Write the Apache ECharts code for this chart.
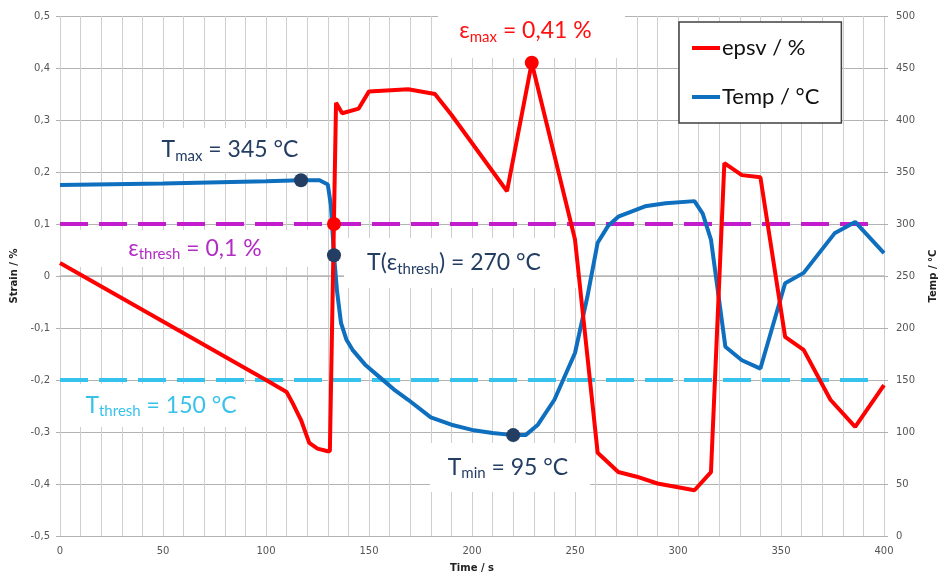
<!DOCTYPE html>
<html>
<head>
<meta charset="utf-8">
<script src="https://cdn.jsdelivr.net/npm/echarts@6/dist/echarts.min.js"></script>
<style>
  html, body { margin: 0; padding: 0; background: #fff; }
  #chart { width: 946px; height: 585px; }
</style>
</head>
<body>
<div id="chart"></div>
<script>
// strain (%) over time (s)
const strainData = [
  [0, 0.025], [100, -0.200], [110, -0.223], [113, -0.245], [117, -0.277],
  [121, -0.321], [125, -0.332], [130, -0.337], [131, -0.337], [134, 0.333],
  [137, 0.313], [145, 0.322], [150, 0.355], [169, 0.359], [182, 0.350],
  [190, 0.310], [217, 0.163], [229, 0.410], [250, 0.070], [261, -0.340],
  [271, -0.377], [280, -0.386], [290, -0.399], [308, -0.412], [316, -0.377],
  [322.5, 0.217], [331, 0.194], [340, 0.190], [352, -0.117], [361, -0.142],
  [374, -0.238], [386, -0.290], [400, -0.210]
];

// temperature (°C) over time (s)
const tempData = [
  [0, 337.5], [50, 339], [100, 341], [117, 342], [126, 342], [130, 338],
  [131.5, 318], [133, 270], [134.5, 235], [136.4, 205], [139, 189], [142, 179],
  [148, 165], [155, 153], [162, 141], [169, 131], [180, 114], [190, 107],
  [200, 102], [210, 99], [220, 97], [226, 97], [232, 107], [240, 131],
  [250, 176], [256, 230], [261, 282], [266, 298], [271, 307], [284, 317],
  [294, 320], [308, 322], [312, 310], [316, 285], [323, 182], [331, 169],
  [340, 161], [352, 243], [361, 253], [376, 291], [386, 302], [400, 272]
];

const strainThresh = [[0, 0.1], [394, 0.1]];
const tempThresh = [[0, 150], [394, 150]];

const strainMarks = [[133, 0.1], [229, 0.41]];
const tempMarks = [[117, 342], [133, 270], [220, 97]];

const navy = '#233d63';
const font = 'Lato, "Open Sans", sans-serif';

// white box behind an annotation, text centred (dx nudges the text)
function note(x, y, w, h, text, color, dx) {
  return [
    { type: 'rect', z: 1, shape: { x: x, y: y, width: w, height: h }, style: { fill: '#fff' } },
    {
      type: 'text', z: 3, x: x + w / 2 + (dx || 0), y: y + h / 2,
      style: {
        text: text, align: 'center', verticalAlign: 'middle',
        rich: {
          n: { fontSize: 23, fontFamily: font, fill: color, color: color },
          s: { fontSize: 15, fontFamily: font, fill: color, color: color, padding: [12, 0, 0, 0] }
        }
      }
    }
  ];
}

const chart = echarts.init(document.getElementById('chart'));

chart.setOption({
  backgroundColor: '#fff',
  animation: false,
  grid: { left: 60, right: 59, top: 16, bottom: 49 },
  legend: {
    data: ['epsv / %', 'Temp / °C'],
    orient: 'vertical',
    left: 679,
    top: 22,
    width: 163,
    padding: [15, 22, 15, 13],
    itemGap: 27,
    itemWidth: 28,
    itemHeight: 4,
    icon: 'rect',
    backgroundColor: '#fff',
    borderColor: '#404040',
    borderWidth: 1.5,
    textStyle: { fontSize: 22, fontFamily: font, color: '#111', padding: [0, 0, 0, -3] }
  },
  xAxis: {
    type: 'value',
    min: 0, max: 400, interval: 10,
    name: 'Time / s',
    nameLocation: 'middle',
    nameGap: 27,
    nameTextStyle: { fontSize: 10, fontWeight: 'bold', color: '#222', fontFamily: 'DejaVu Sans' },
    axisLine: { show: true, lineStyle: { color: '#b8b8b8', width: 1.5 } },
    axisTick: { show: true, length: 4, lineStyle: { color: '#b8b8b8' } },
    axisLabel: {
      margin: 10, fontSize: 10, color: '#555', fontFamily: 'DejaVu Sans',
      formatter: v => (v % 50 === 0 ? String(v) : '')
    },
    splitLine: { show: true, lineStyle: { color: '#cfcfcf', width: 1 } }
  },
  yAxis: [
    {
      type: 'value',
      min: -0.5, max: 0.5, interval: 0.1,
      name: 'Strain / %',
      nameLocation: 'middle',
      nameRotate: 90,
      nameGap: 40,
      nameTextStyle: { fontSize: 10, fontWeight: 'bold', color: '#222', fontFamily: 'DejaVu Sans' },
      axisLine: { show: false },
      axisTick: { show: true, length: 4, lineStyle: { color: '#b0b0b0' } },
      axisLabel: {
        margin: 10, fontSize: 10, color: '#555', fontFamily: 'DejaVu Sans',
        formatter: v => (Math.abs(v) < 1e-9 ? '0' : v.toFixed(1).replace('.', ','))
      },
      splitLine: { show: true, lineStyle: { color: '#b3b3b3', width: 1.2 } }
    },
    {
      type: 'value',
      min: 0, max: 500, interval: 50,
      name: 'Temp / °C',
      nameLocation: 'middle',
      nameRotate: 90,
      nameGap: 44,
      nameTextStyle: { fontSize: 10, fontWeight: 'bold', color: '#222', fontFamily: 'DejaVu Sans' },
      axisLine: { show: false },
      axisTick: { show: true, length: 4, lineStyle: { color: '#b0b0b0' } },
      axisLabel: { margin: 12, fontSize: 10, color: '#555', fontFamily: 'DejaVu Sans' },
      splitLine: { show: false }
    }
  ],
  series: [
    {
      name: 'strain thresh', type: 'line', yAxisIndex: 0, data: strainThresh,
      symbol: 'none', z: 2,
      lineStyle: { color: '#c31ccc', width: 4, type: [28, 11] }
    },
    {
      name: 'temp thresh', type: 'line', yAxisIndex: 1, data: tempThresh,
      symbol: 'none', z: 2,
      lineStyle: { color: '#35c3ee', width: 4, type: [28, 11] }
    },
    {
      name: 'epsv / %', type: 'line', yAxisIndex: 0, data: strainData,
      symbol: 'none', color: '#ff0000', z: 4,
      lineStyle: { color: '#ff0000', width: 4 }
    },
    {
      name: 'Temp / °C', type: 'line', yAxisIndex: 1, data: tempData,
      symbol: 'none', color: '#0f6fbf', z: 3,
      lineStyle: { color: '#0f6fbf', width: 4 }
    },
    {
      name: 'strain marks', type: 'scatter', yAxisIndex: 0, data: strainMarks,
      symbolSize: 14, z: 6, itemStyle: { color: '#ff0000', opacity: 1 }
    },
    {
      name: 'temp marks', type: 'scatter', yAxisIndex: 1, data: tempMarks,
      symbolSize: 14, z: 6, itemStyle: { color: navy, opacity: 1 }
    }
  ],
  graphic: [].concat(
    note(438, 4, 187, 54, '{n|ε}{s|max}{n| = 0,41 %}', '#ff1010', -6),
    note(145, 128, 168, 44, '{n|T}{s|max}{n| = 345 °C}', navy, 1),
    note(62, 230, 248, 37, '{n|ε}{s|thresh}{n| = 0,1 %}', '#b32cc6', 9),
    note(344, 238, 232, 50, '{n|T(ε}{s|thresh}{n|) = 270 °C}', navy, -6),
    note(62, 384, 198, 43, '{n|T}{s|thresh}{n| = 150 °C}', '#38c2ea'),
    note(430, 443, 160, 49, '{n|T}{s|min}{n| = 95 °C}', navy, -2)
  )
});
</script>
</body>
</html>
